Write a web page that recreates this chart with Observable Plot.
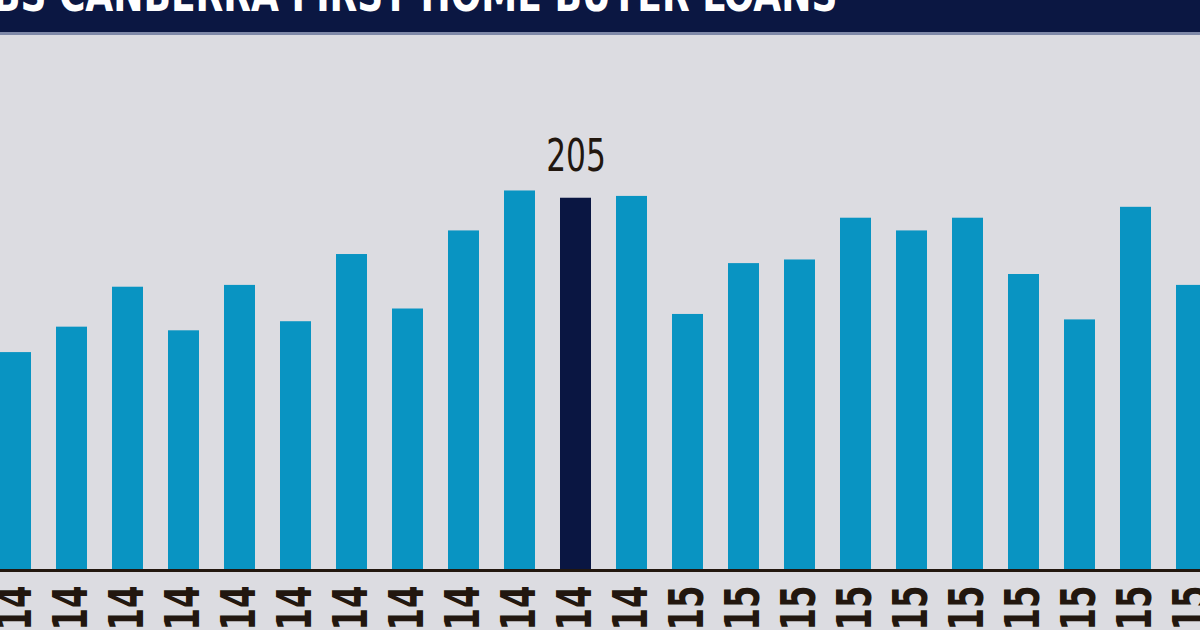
<!DOCTYPE html>
<html>
<head>
<meta charset="utf-8">
<script src="https://cdn.jsdelivr.net/npm/d3@7"></script>
<script src="https://cdn.jsdelivr.net/npm/@observablehq/plot@0.6"></script>
<style>
  html, body { margin: 0; padding: 0; width: 1200px; height: 630px; overflow: hidden; background: #dcdce1; }
  .titlebar {
    position: relative; height: 32px; background: #0b1742;
    border-bottom: 3px solid #7f89a8; overflow: hidden;
  }
  .titlebar span {
    position: absolute; left: -35px; top: -34px; white-space: nowrap;
    transform: scaleX(0.835); transform-origin: 0 0;
    font-family: "Liberation Sans Narrow", "DejaVu Sans Condensed", sans-serif;
    font-weight: bold; font-size: 48px; color: #ffffff;
  }
  #chart svg { display: block; overflow: visible; }
</style>
</head>
<body>
<div class="titlebar"><span>ABS CANBERRA FIRST HOME BUYER LOANS</span></div>
<div id="chart"></div>
<script>
// Monthly first home buyer loans, Canberra
const months = [
  "Jan 2014", "Feb 2014", "Mar 2014", "Apr 2014", "May 2014", "Jun 2014",
  "Jul 2014", "Aug 2014", "Sep 2014", "Oct 2014", "Nov 2014", "Dec 2014",
  "Jan 2015", "Feb 2015", "Mar 2015", "Apr 2015", "May 2015", "Jun 2015",
  "Jul 2015", "Aug 2015", "Sep 2015", "Oct 2015"
];
const loans = [
  120, 134, 156, 132, 157, 137, 174, 144, 187, 209, 205, 206,
  141, 169, 171, 194, 187, 194, 163, 138, 200, 157
];
const tickLabels = [
  "14", "14", "14", "14", "14", "14", "14", "14", "14", "14", "14", "14",
  "15", "15", "15", "15", "15", "15", "15", "15", "15", "15"
];
const highlightMonth = "Nov 2014";

const data = months.map((month, i) => ({ month, loans: loans[i], tick: tickLabels[i] }));
const highlighted = data.filter(d => d.month === highlightMonth);
const others = data.filter(d => d.month !== highlightMonth);

const font = '"Liberation Sans Narrow", "DejaVu Sans Condensed", sans-serif';
const blue = "#0994c2";
const navy = "#0a1642";
const ink = "#22170f";

const chart = Plot.plot({
  width: 1200,
  height: 595,
  marginTop: 0, marginRight: 0, marginBottom: 0, marginLeft: 0,
  style: { background: "transparent", fontFamily: font, overflow: "visible" },
  x: { domain: months, range: [-1, 1207], paddingInner: 0.447, paddingOuter: 0, axis: null },
  y: { domain: [0, 220], range: [535, 135.5], axis: null },
  marks: [
    Plot.barY(others, { x: "month", y: "loans", fill: blue }),
    Plot.barY(highlighted, { x: "month", y: "loans", fill: navy }),
    Plot.ruleY([0], { stroke: ink, strokeWidth: 3 }),
    // year tick labels, rotated to read upward from below the baseline
    Plot.text(data, {
      x: "month", y: 0, text: "tick", rotate: -90, textAnchor: "end",
      dy: 15, fontSize: 48, fontWeight: "bold", fill: ink
    }),
    // value callout on the highlighted month
    Plot.text(highlighted, {
      x: "month", y: "loans", text: d => String(d.loans), lineAnchor: "bottom",
      dy: -27, fontSize: 44, fill: ink
    })
  ]
});

// narrow the lettering to a condensed face: scale each glyph run about its own anchor
d3.select(chart).selectAll("text").each(function () {
  const t = d3.select(this);
  const tr = t.attr("transform");
  if (tr && tr.includes("rotate")) {
    t.attr("transform", `${tr} scale(0.75,1)`);
  } else {
    const x = parseFloat(t.attr("x")), y = parseFloat(t.attr("y"));
    const base = tr || "";
    if (!isNaN(x) && !isNaN(y) && !String(t.attr("y")).includes("em")) {
      t.attr("x", null).attr("y", null);
      t.attr("transform", `${base} translate(${x},${y}) scale(0.79,1)`);
    } else {
      t.attr("transform", `${base} scale(0.79,1)`);
    }
  }
});

document.getElementById("chart").appendChild(chart);
</script>
</body>
</html>
